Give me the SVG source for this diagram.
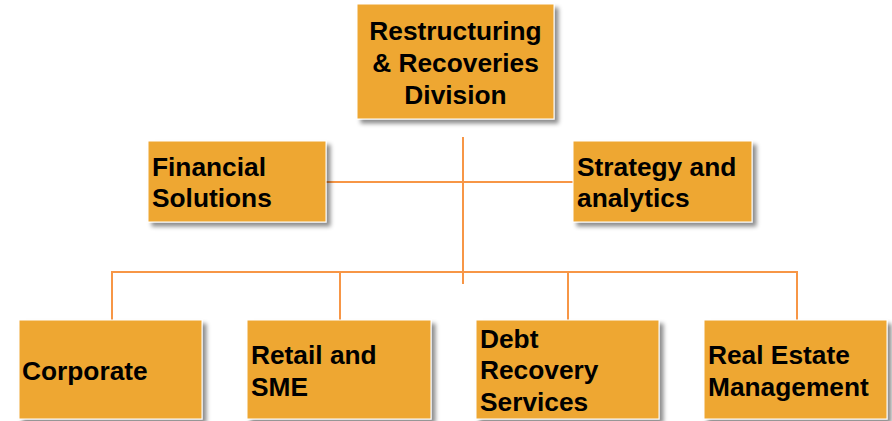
<svg xmlns="http://www.w3.org/2000/svg" width="892" height="421" viewBox="0 0 892 421">
<defs>
<filter id="sh" x="-10%" y="-10%" width="130%" height="130%">
<feDropShadow dx="4" dy="4" stdDeviation="2" flood-color="#000" flood-opacity="0.45"/>
</filter>
<style>
.box{fill:#EEA733;stroke:#FFFFFF;stroke-width:1;filter:url(#sh)}
.t{font-family:"Liberation Sans",Arial,sans-serif;font-weight:bold;font-size:26.3px;fill:#000}
.c{text-anchor:middle}
.ln{stroke:#F79646;stroke-width:2;fill:none}
</style>
</defs>
<rect width="892" height="421" fill="#fff"/>
<g id="connectors">
<line class="ln" x1="463" y1="137" x2="463" y2="284"/>
<line class="ln" x1="326" y1="182" x2="573" y2="182"/>
<line class="ln" x1="111" y1="272" x2="798" y2="272"/>
<line class="ln" x1="112" y1="272" x2="112" y2="320"/>
<line class="ln" x1="340" y1="272" x2="340" y2="320"/>
<line class="ln" x1="568" y1="272" x2="568" y2="320"/>
<line class="ln" x1="797" y1="272" x2="797" y2="320"/>
</g>
<g id="n-top">
<rect class="box" x="357" y="4" width="197" height="115"/>
<text class="t c" x="455.5" y="40">Restructuring</text>
<text class="t c" x="455.5" y="72">&amp; Recoveries</text>
<text class="t c" x="455.5" y="104">Division</text>
</g>
<g id="n-financial">
<rect class="box" x="148" y="141" width="178" height="81"/>
<text class="t" x="152" y="176">Financial</text>
<text class="t" x="152" y="207">Solutions</text>
</g>
<g id="n-strategy">
<rect class="box" x="573" y="141" width="179" height="81"/>
<text class="t" x="577" y="176">Strategy and</text>
<text class="t" x="577" y="207">analytics</text>
</g>
<g id="n-corporate">
<rect class="box" x="19" y="320" width="183" height="99"/>
<text class="t" x="22" y="380">Corporate</text>
</g>
<g id="n-retail">
<rect class="box" x="247" y="320" width="184" height="99"/>
<text class="t" x="251" y="364">Retail and</text>
<text class="t" x="251" y="396">SME</text>
</g>
<g id="n-debt">
<rect class="box" x="476" y="320" width="183" height="99"/>
<text class="t" x="480" y="348">Debt</text>
<text class="t" x="480" y="379">Recovery</text>
<text class="t" x="480" y="411">Services</text>
</g>
<g id="n-realestate">
<rect class="box" x="704" y="320" width="183" height="99"/>
<text class="t" x="708" y="364">Real Estate</text>
<text class="t" x="708" y="396">Management</text>
</g>
</svg>
